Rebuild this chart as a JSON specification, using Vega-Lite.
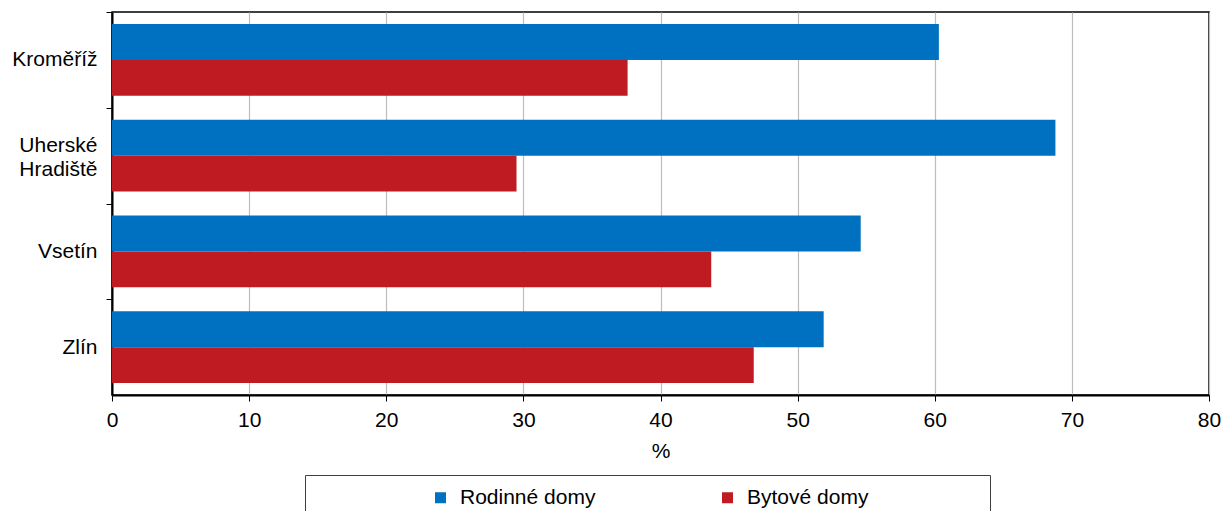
{
  "$schema": "https://vega.github.io/schema/vega-lite/v6.json",
  "description": "Podíl rodinných a bytových domů v okresech Zlínského kraje",
  "width": 1097,
  "height": 383,
  "autosize": {"type": "none"},
  "padding": {"left": 112, "top": 12, "right": 14, "bottom": 116},
  "data": {
    "values": [
      {"okres": "Kroměříž", "typ": "Rodinné domy", "podil": 60.3},
      {"okres": "Kroměříž", "typ": "Bytové domy", "podil": 37.6},
      {"okres": "Uherské Hradiště", "typ": "Rodinné domy", "podil": 68.8},
      {"okres": "Uherské Hradiště", "typ": "Bytové domy", "podil": 29.5},
      {"okres": "Vsetín", "typ": "Rodinné domy", "podil": 54.6},
      {"okres": "Vsetín", "typ": "Bytové domy", "podil": 43.7},
      {"okres": "Zlín", "typ": "Rodinné domy", "podil": 51.9},
      {"okres": "Zlín", "typ": "Bytové domy", "podil": 46.8}
    ]
  },
  "mark": {"type": "bar"},
  "encoding": {
    "y": {
      "field": "okres",
      "type": "nominal",
      "sort": ["Kroměříž", "Uherské Hradiště", "Vsetín", "Zlín"],
      "scale": {"paddingInner": 0.25, "paddingOuter": 0.125},
      "axis": {
        "title": null,
        "grid": false,
        "tickOffset": -47.875,
        "labelOffset": {"condition": {"test": "datum.label == 'Uherské Hradiště'", "value": 38}, "value": 47.875},
        "labelExpr": "datum.label == 'Uherské Hradiště' ? ['Uherské', 'Hradiště'] : datum.label",
        "labelLineHeight": 24,
        "labelPadding": 9
      }
    },
    "yOffset": {
      "field": "typ",
      "type": "nominal",
      "sort": ["Rodinné domy", "Bytové domy"],
      "scale": {"paddingInner": 0, "paddingOuter": 0}
    },
    "x": {
      "field": "podil",
      "type": "quantitative",
      "scale": {"domain": [0, 80]},
      "axis": {
        "title": "%",
        "values": [0, 10, 20, 30, 40, 50, 60, 70, 80],
        "grid": true,
        "labelFlush": false,
        "labelPadding": 8,
        "titlePadding": 10
      }
    },
    "color": {
      "field": "typ",
      "type": "nominal",
      "scale": {
        "domain": ["Rodinné domy", "Bytové domy"],
        "range": ["#0070c0", "#be1b22"]
      },
      "legend": {
        "title": "\u00a0",
        "titleOrient": "right",
        "titlePadding": 110,
        "titleFontSize": 21,
        "orient": "none",
        "legendX": 193,
        "legendY": 463,
        "direction": "horizontal",
        "padding": 12,
        "strokeColor": "#404040",
        "symbolType": "square",
        "symbolSize": 121,
        "symbolStrokeWidth": 0,
        "symbolOffset": 113,
        "labelOffset": 9,
        "columnPadding": 8,
        "labelLimit": 400
      }
    }
  },
  "config": {
    "font": "Liberation Sans",
    "view": {"stroke": "#000000", "strokeWidth": 1.5},
    "axis": {
      "labelFontSize": 21,
      "labelColor": "#000000",
      "titleFontSize": 21,
      "titleFontWeight": "normal",
      "titleColor": "#000000",
      "tickColor": "#000000",
      "tickSize": 6,
      "domainColor": "#000000",
      "domainWidth": 2,
      "gridColor": "#bdbdbd",
      "gridWidth": 1.2
    },
    "legend": {
      "labelFontSize": 21,
      "labelColor": "#000000"
    }
  }
}
